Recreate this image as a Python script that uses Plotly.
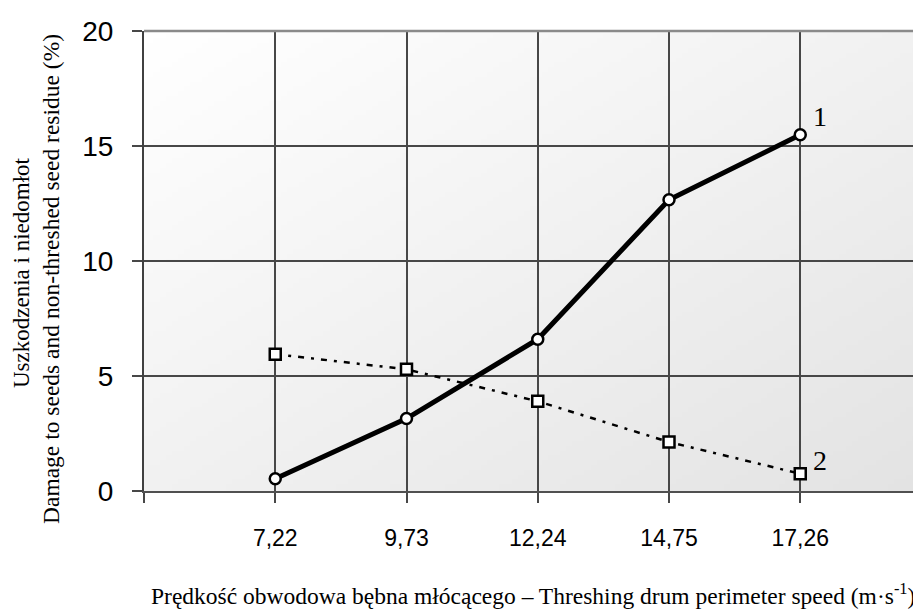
import base64, struct, zlib
import plotly.graph_objects as go

# ---- data ----
speed_labels = ["7,22", "9,73", "12,24", "14,75", "17,26"]
damage = [0.53, 3.15, 6.6, 12.66, 15.49]          # series 1
residue = [5.95, 5.29, 3.9, 2.13, 0.75]           # series 2
y_ticks = [0, 5, 10, 15, 20]
cat_pos = list(range(len(speed_labels)))


def gradient_png(w=128, h=96):
    raw = b""
    for j in range(h):
        row = bytearray([0])
        for i in range(w):
            t = (i / (w - 1) + j / (h - 1)) / 2
            v = round(255 - 28 * t)
            row += bytes([v, v, v])
        raw += bytes(row)

    def chunk(tag, data):
        return (struct.pack(">I", len(data)) + tag + data +
                struct.pack(">I", zlib.crc32(tag + data) & 0xFFFFFFFF))

    png = (b"\x89PNG\r\n\x1a\n" +
           chunk(b"IHDR", struct.pack(">IIBBBBB", w, h, 8, 2, 0, 0, 0)) +
           chunk(b"IDAT", zlib.compress(raw)) +
           chunk(b"IEND", b""))
    return "data:image/png;base64," + base64.b64encode(png).decode()


XMIN, XMAX = -1, 4.92

fig = go.Figure()
fig.add_trace(go.Scatter(
    x=cat_pos, y=residue, mode="lines+markers",
    line=dict(color="black", width=2.5, dash="6px,7px,3px,7px"),
    marker=dict(symbol="square", size=11, color="white",
                line=dict(color="black", width=2.5)),
    showlegend=False, hoverinfo="skip"))
fig.add_trace(go.Scatter(
    x=cat_pos, y=damage, mode="lines+markers",
    line=dict(color="black", width=5),
    marker=dict(symbol="circle", size=11, color="white",
                line=dict(color="black", width=2.5)),
    showlegend=False, hoverinfo="skip"))

fig.add_layout_image(dict(
    source=gradient_png(), xref="x", yref="y", x=XMIN, y=20,
    sizex=XMAX - XMIN, sizey=20, sizing="stretch", layer="below"))

serif = "Liberation Serif, Times New Roman, serif"
sans = "Liberation Sans, Arial, sans-serif"

# page body has an 8px margin, so the figure is offset by 8px
fig.update_layout(
    width=913, height=602,
    margin=dict(l=136, r=0, t=23, b=119),
    paper_bgcolor="white", plot_bgcolor="white",
    xaxis=dict(
        range=[XMIN, XMAX],
        tickvals=[-1] + cat_pos, ticktext=[""] + speed_labels,
        showgrid=True, gridcolor="#474747", gridwidth=1.5,
        zeroline=False,
        showline=True, linecolor="#505050", linewidth=2,
        ticks="outside", ticklen=10, tickwidth=1.5, tickcolor="#474747",
        tickfont=dict(family=sans, size=23, color="black"),
        ticklabelstandoff=15,
    ),
    yaxis=dict(
        range=[0, 20], tickvals=y_ticks,
        showgrid=True, gridcolor="#474747", gridwidth=1.5,
        zeroline=False,
        showline=True, linecolor="#404040", linewidth=2,
        ticks="outside", ticklen=10, tickwidth=1.5, tickcolor="#474747",
        tickfont=dict(family=sans, size=28, color="black"),
        ticklabelstandoff=13,
    ),
    shapes=[dict(type="line", xref="paper", yref="paper",
                 x0=0, x1=1, y0=1, y1=1,
                 line=dict(color="#8a8a8a", width=2.5), layer="above")],
    annotations=[
        dict(text="Uszkodzenia i niedomłot", xref="paper", yref="paper",
             x=(21 - 144) / 777, y=(491 - 273) / 460, textangle=-90,
             xanchor="center", yanchor="middle", showarrow=False,
             font=dict(family=serif, size=23, color="black")),
        dict(text="Damage to seeds and non-threshed seed residue (%)",
             xref="paper", yref="paper",
             x=(51 - 144) / 777, y=(491 - 279) / 460, textangle=-90,
             xanchor="center", yanchor="middle", showarrow=False,
             font=dict(family=serif, size=23.5, color="black")),
        dict(text="Prędkość obwodowa bębna młócącego – Threshing drum perimeter speed (m·s<sup>-1</sup>)",
             xref="paper", yref="paper", x=(533 - 144) / 777,
             y=(491 - 594) / 460, xanchor="center", yanchor="middle",
             showarrow=False, font=dict(family=serif, size=23.5, color="black")),
        dict(text="1", xref="x", yref="y", x=cat_pos[-1], y=damage[-1],
             xshift=20, yshift=18, showarrow=False,
             xanchor="center", yanchor="middle",
             font=dict(family=serif, size=28, color="black")),
        dict(text="2", xref="x", yref="y", x=cat_pos[-1], y=residue[-1],
             xshift=20, yshift=13, showarrow=False,
             xanchor="center", yanchor="middle",
             font=dict(family=serif, size=28, color="black")),
    ],
)

fig.write_html("out.html")
